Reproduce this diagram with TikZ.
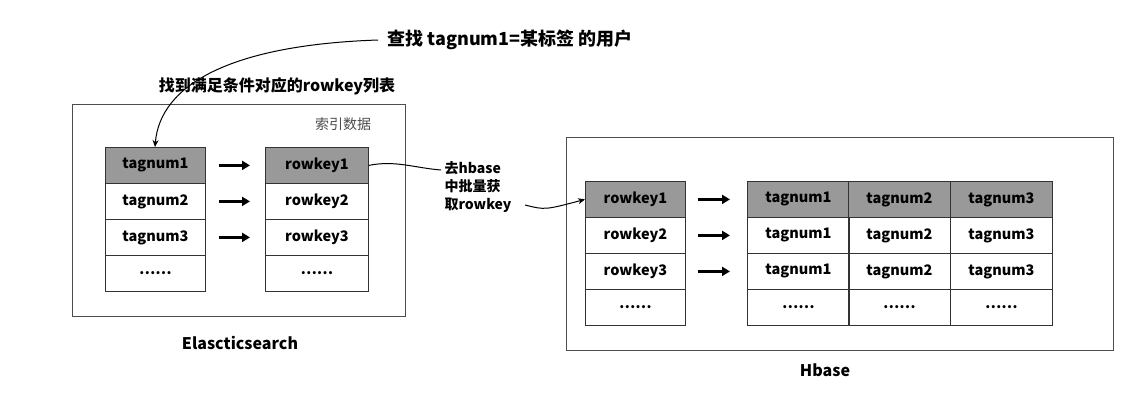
\documentclass[tikz,border=0pt]{standalone}
\usepackage{fontspec}
\setmainfont{Noto Sans CJK SC}
\usetikzlibrary{arrows.meta}
\begin{document}
\begin{tikzpicture}[x=1pt,y=-1pt,
 cell/.style={draw=black!80,line width=0.8pt,minimum width=#1,minimum height=36,inner sep=0,font=\fontsize{14.5}{14.5}\selectfont\bfseries,anchor=north west},
 cell/.default=100,
 gcell/.style={cell=#1,fill=black!40},
 gcell/.default=100,
 arr/.style={-{Triangle[length=8,width=9]},line width=3pt},
 conn/.style={-{Stealth[length=7,width=6]},line width=1pt},
 box/.style={draw=black!70,line width=0.6pt}]
\useasboundingbox (0,0) rectangle (1133,407);
\node[font=\fontsize{18}{18}\selectfont\bfseries] (title) at (510,40) {查找 tagnum1=某标签 的用户};
\node[font=\fontsize{16}{16}\selectfont\bfseries] (lab1) at (277,86) {找到满足条件对应的rowkey列表};
\draw[box] (72,104) rectangle (405,316);
\node[font=\fontsize{14}{14}\selectfont,text=black!70] (idx) at (343,124) {索引数据};
\node[gcell] (t1) at (105,147) {tagnum1};
\node[cell] (t2) at (105,183) {tagnum2};
\node[cell] (t3) at (105,219) {tagnum3};
\node[cell] (t4) at (105,255) {……};
\node[gcell=103] (r1) at (265,147) {rowkey1};
\node[cell=103] (r2) at (265,183) {rowkey2};
\node[cell=103] (r3) at (265,219) {rowkey3};
\node[cell=103] (r4) at (265,255) {……};
\foreach \i in {1,2,3}{\draw[arr] ([xshift=13]t\i.east) -- ([xshift=-15]r\i.west);}
\node[font=\fontsize{16}{16}\selectfont\bfseries] (es) at (240,343) {Elascticsearch};
\coordinate (c0) at (378,40);
\draw[conn] (c0) .. controls (230,45) and (160,85) .. (t1.north west -| 155,147);
\draw[box] (566,137) rectangle (1113,350);
\node[font=\fontsize{16}{16}\selectfont\bfseries] (hb) at (825,370) {Hbase};
\node[gcell] (h1) at (585,181) {rowkey1};
\node[cell] (h2) at (585,217) {rowkey2};
\node[cell] (h3) at (585,253) {rowkey3};
\node[cell] (h4) at (585,289) {……};
\foreach \j/\x in {a/747,b/848,c/950}{
 \node[gcell=102] (\j1) at (\x,181) {};
 \node[cell=102] (\j2) at (\x,217) {};
 \node[cell=102] (\j3) at (\x,253) {};
 \node[cell=102] (\j4) at (\x,289) {……};}
\foreach \r in {1,2,3}{
\node[font=\fontsize{14.5}{14.5}\selectfont\bfseries] at (a\r) {tagnum1};
\node[font=\fontsize{14.5}{14.5}\selectfont\bfseries] at (b\r) {tagnum2};
\node[font=\fontsize{14.5}{14.5}\selectfont\bfseries] at (c\r) {tagnum3};}
\foreach \i in {1,2,3}{\draw[arr] ([xshift=12]h\i.east) -- ([xshift=-17]a\i.west);}
\node[font=\fontsize{14}{18}\selectfont\bfseries,align=left] (lab2) at (478,187) {去hbase\\中批量获\\取rowkey};
\draw[line width=1pt] (r1.east) .. controls (395,160) and (415,168) .. (lab2.west |- 0,170);
\draw[conn] (525,205) .. controls (545,210) .. (h1.west);
\end{tikzpicture}
\end{document}
